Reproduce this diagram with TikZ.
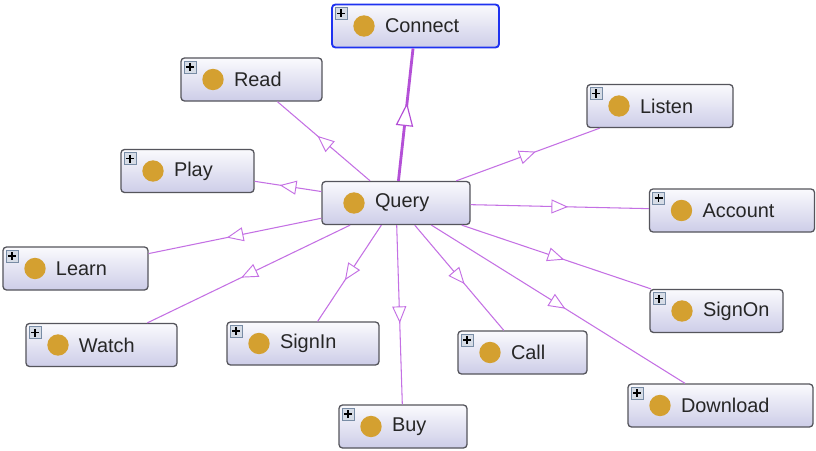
\documentclass[tikz,border=0pt]{standalone}
\usepackage{fontspec}
\setmainfont{Liberation Sans}
\usetikzlibrary{arrows.meta,decorations.markings}
\definecolor{edgepurple}{RGB}{196,112,228}
\definecolor{mainpurple}{RGB}{180,80,215}
\definecolor{selblue}{RGB}{30,50,240}
\definecolor{dotgold}{RGB}{212,160,48}
\definecolor{clsbot}{RGB}{205,205,232}
\definecolor{clstop}{RGB}{250,250,253}
\definecolor{clsline}{RGB}{85,85,92}
\definecolor{iconfill}{RGB}{214,220,230}
\definecolor{iconline}{RGB}{120,140,165}
\tikzset{
  cls/.style={draw=clsline, line width=1.1pt, rounded corners=3pt,
    top color=clstop, bottom color=clsbot, minimum height=1.29cm,
    inner xsep=0pt, inner ysep=0pt, align=left, text=black!85,
    font=\fontsize{17}{20}\selectfont,
    execute at begin node=\hspace*{1.59cm},
    path picture={
      \fill[dotgold] ([xshift=0.96cm]path picture bounding box.west) circle (0.32cm);
    }},
  kid/.style={cls,
    path picture={
      \fill[dotgold] ([xshift=0.96cm]path picture bounding box.west) circle (0.32cm);
      \draw[iconline, fill=iconfill, line width=0.7pt, sharp corners]
        ([shift={(0.09cm,-0.09cm)}]path picture bounding box.north west) rectangle ++(0.36cm,-0.36cm);
      \draw[black, line width=1.3pt, sharp corners]
        ([shift={(0.15cm,-0.27cm)}]path picture bounding box.north west) -- ++(0.24cm,0)
        ([shift={(0.27cm,-0.15cm)}]path picture bounding box.north west) -- ++(0,-0.24cm);
    }},
  rel/.style={draw=edgepurple, line width=0.9pt, postaction={decorate},
    decoration={markings, mark=at position 0.5 with
      {\arrow[xshift=0.25cm]{Triangle[fill=white, length=0.5cm, width=0.42cm, line width=0.8pt]}}}},
  mainrel/.style={draw=mainpurple, line width=2.4pt, postaction={decorate},
    decoration={markings, mark=at position 0.5 with
      {\arrow[xshift=0.36cm]{Triangle[fill=white, length=0.7cm, width=0.52cm, line width=1pt]}}}}
}
\begin{document}
\begin{tikzpicture}[x=0.03cm, y=-0.03cm]
\useasboundingbox[fill=white] (0,0) rectangle (816,450);
% classes
\node[kid, draw=selblue, line width=1.6pt, text width=5.01cm] (connect) at (415.5,26) {Connect};
\node[kid, text width=4.23cm] (read) at (251.5,79.5) {Read};
\node[kid, text width=4.38cm] (listen) at (660,106) {Listen};
\node[kid, text width=3.99cm] (play) at (187.5,171) {Play};
\node[cls, text width=4.44cm] (query) at (396,203) {Query};
\node[kid, text width=4.95cm] (account) at (732,210.5) {Account};
\node[kid, text width=4.35cm] (learn) at (75.5,268.5) {Learn};
\node[kid, text width=3.99cm] (signon) at (716.5,311) {SignOn};
\node[kid, text width=4.53cm] (watch) at (101.5,345) {Watch};
\node[kid, text width=4.56cm] (signin) at (303,343.5) {SignIn};
\node[kid, text width=3.87cm] (call) at (522.5,352.5) {Call};
\node[kid, text width=5.55cm] (download) at (720.5,405.5) {Download};
\node[kid, text width=3.84cm] (buy) at (403,426.5) {Buy};
% subclass links
\draw[mainrel] (query) -- (connect);
\foreach \n in {read,listen,play,account,learn,signon,watch,signin,call,download,buy}
  \draw[rel] (query) -- (\n);
\end{tikzpicture}
\end{document}
